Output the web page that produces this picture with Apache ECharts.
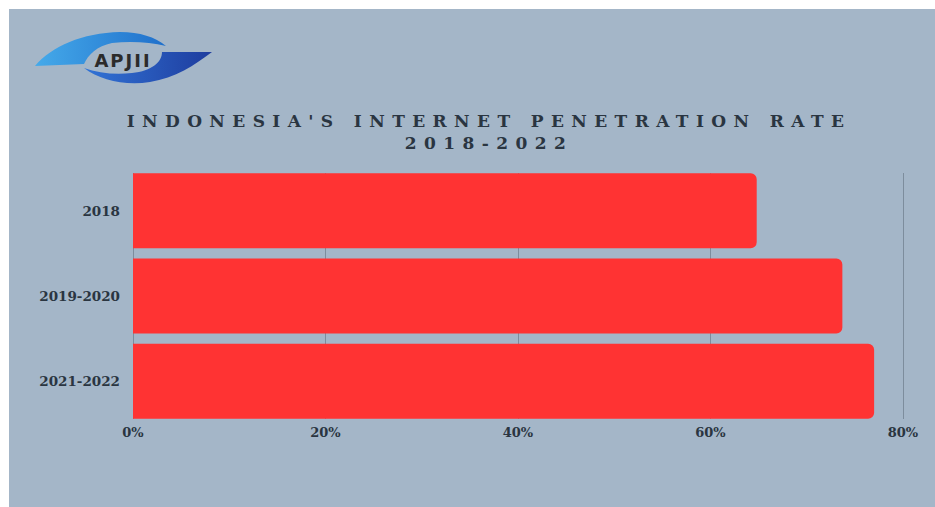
<!DOCTYPE html>
<html>
<head>
<meta charset="utf-8">
<style>
  html, body { margin: 0; padding: 0; background: #ffffff; }
  #chart { width: 935px; height: 507px; }
  #chart text[style*="17px"] { letter-spacing: 7.4px; }
  #chart text[style*="18px"] { letter-spacing: 2px; }
</style>
<script src="https://cdn.jsdelivr.net/npm/echarts@6/dist/echarts.min.js"></script>
</head>
<body>
<div id="chart"></div>
<script>
const titleLines = ["INDONESIA'S INTERNET PENETRATION RATE", "2018-2022"];
const categories = ["2018", "2019-2020", "2021-2022"];
const penetrationRate = [64.8, 73.7, 77.0];
const xTicks = [0, 20, 40, 60, 80];
const logoText = "APJII";

const panelColor = '#a4b6c8';
const textColor = '#2a3541';
const barColor = '#ff3333';
const labelFont = { fontFamily: 'DejaVu Serif', fontWeight: 'bold', fontSize: 13, color: textColor };

echarts.graphic.registerShape('logoUpper', echarts.graphic.extendPath(
  'M35,66 C52,46 82,33 120,32 C140,32 155,37 166,46 C150,42 130,41 112,43 C97,46 88,55 84,64 Z', {}));
echarts.graphic.registerShape('logoLower', echarts.graphic.extendPath(
  'M84,68 C100,80 125,86 150,82 C175,78 195,65 212,52 L162,52 C162,62 152,71 132,73 C115,75 98,73 84,68 Z', {}));

const chart = echarts.init(document.getElementById('chart'), null, { renderer: 'svg' });

const option = {
  backgroundColor: '#ffffff',
  animation: false,
  title: {
    text: titleLines.join('\n'),
    left: 489,
    top: 110,
    padding: 0,
    textAlign: 'center',
    textStyle: {
      fontFamily: 'DejaVu Serif',
      fontWeight: 'bold',
      fontSize: 17,
      lineHeight: 22,
      color: textColor
    }
  },
  graphic: [
    {
      type: 'rect', z: -100, silent: true,
      shape: { x: 9, y: 9, width: 926, height: 498 },
      style: { fill: panelColor }
    },
    {
      type: 'logoUpper', silent: true,
      style: {
        fill: new echarts.graphic.LinearGradient(0, 0, 1, 0, [
          { offset: 0, color: '#45aaea' },
          { offset: 1, color: '#1f6fcb' }
        ])
      }
    },
    {
      type: 'logoLower', silent: true,
      style: {
        fill: new echarts.graphic.LinearGradient(0, 0, 1, 0, [
          { offset: 0, color: '#3274d6' },
          { offset: 1, color: '#1e3c9e' }
        ])
      }
    },
    {
      type: 'text', silent: true,
      x: 123, y: 60,
      style: {
        text: logoText,
        fontFamily: 'DejaVu Sans',
        fontWeight: 'bold',
        fontSize: 18,
        fill: '#2b2b2b',
        textAlign: 'center',
        textVerticalAlign: 'middle'
      }
    }
  ],
  grid: [
    { left: 133, right: 32, top: 173, bottom: 88 },
    { left: 133, right: 32, top: 168, bottom: 83 }
  ],
  xAxis: [
    {
      type: 'value', gridIndex: 0,
      min: xTicks[0], max: xTicks[xTicks.length - 1], interval: xTicks[1] - xTicks[0],
      axisLine: { show: false }, axisTick: { show: false },
      splitLine: { show: true, lineStyle: { color: '#7d8d9d', width: 1 } },
      axisLabel: Object.assign({ margin: 7, formatter: '{value}%' }, labelFont)
    },
    {
      type: 'value', gridIndex: 1,
      min: xTicks[0], max: xTicks[xTicks.length - 1], interval: xTicks[1] - xTicks[0],
      show: false
    }
  ],
  yAxis: [
    {
      type: 'category', gridIndex: 0, data: categories, inverse: true, show: false
    },
    {
      type: 'category', gridIndex: 1, data: categories, inverse: true,
      axisLine: { show: false }, axisTick: { show: false }, splitLine: { show: false },
      axisLabel: Object.assign({}, labelFont, { margin: 13, fontSize: 13.5 })
    }
  ],
  series: [
    {
      type: 'bar',
      xAxisIndex: 1, yAxisIndex: 1,
      data: penetrationRate,
      barWidth: 75,
      itemStyle: { color: barColor, borderRadius: [0, 6, 6, 0] }
    }
  ]
};

chart.setOption(option);
</script>
</body>
</html>
